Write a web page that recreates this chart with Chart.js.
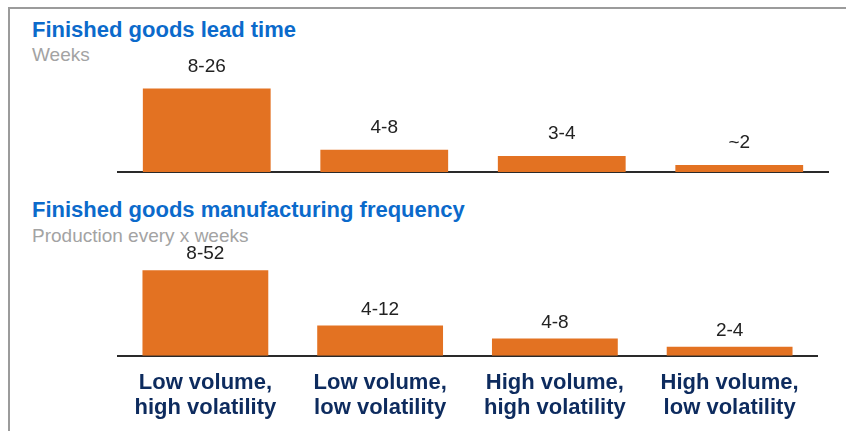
<!DOCTYPE html>
<html>
<head>
<meta charset="utf-8">
<script src="https://cdn.jsdelivr.net/npm/chart.js@4.4.1/dist/chart.umd.min.js"></script>
<style>
  body { margin: 0; background: #fff; font-family: "Liberation Sans", Arial, sans-serif; }
  #wrap { position: relative; width: 846px; height: 431px; overflow: hidden; }
  #frame { position: absolute; left: 8px; top: 7px; right: -4px; bottom: -4px; border-top: 2px solid #9b9b9b; border-left: 2px solid #9b9b9b; }
  .title { position: absolute; left: 32px; font-weight: bold; font-size: 22px; line-height: 22px; color: #0b6acb; white-space: nowrap; }
  .sub { position: absolute; left: 32px; font-size: 19px; line-height: 19px; color: #a3a3a3; white-space: nowrap; }
  canvas { position: absolute; left: 0; }
</style>
</head>
<body>
<div id="wrap">
  <div id="frame"></div>
  <div class="title" style="top:19px">Finished goods lead time</div>
  <div class="sub" style="top:45px">Weeks</div>
  <div class="title" style="top:199px">Finished goods manufacturing frequency</div>
  <div class="sub" style="top:226px">Production every x weeks</div>
  <div style="position:absolute;left:0;top:0;width:846px;height:184px"><canvas id="leadChart"></canvas></div>
  <div style="position:absolute;left:0;top:240px;width:846px;height:199px"><canvas id="freqChart"></canvas></div>
</div>
<script>
// categories (shared by both panels)
const categories = [
  ['Low volume,', 'high volatility'],
  ['Low volume,', 'low volatility'],
  ['High volume,', 'high volatility'],
  ['High volume,', 'low volatility']
];

// lead time panel - bar lengths as drawn, plus printed labels
const leadTimeBars = [83, 22, 16, 7];
const leadTimeLabels = ['8-26', '4-8', '3-4', '~2'];

// manufacturing frequency panel
const freqBars = [85, 30, 17, 9];
const freqLabels = ['8-52', '4-12', '4-8', '2-4'];

const ORANGE = '#e37222';
const NAVY = '#0d2b5e';

// writes the range text above each bar
const valueLabels = {
  id: 'valueLabels',
  afterDatasetsDraw(chart, args, opts) {
    const ctx = chart.ctx;
    const meta = chart.getDatasetMeta(0);
    ctx.save();
    ctx.font = '19px "Liberation Sans", Arial, sans-serif';
    ctx.fillStyle = '#222';
    ctx.textAlign = 'center';
    ctx.textBaseline = 'middle';
    meta.data.forEach((bar, i) => {
      ctx.fillText(opts.labels[i], bar.x, bar.y - opts.offset);
    });
    ctx.restore();
  }
};

function makeChart(id, values, labels, yMax, opts) {
  const ctx = document.getElementById(id);
  return new Chart(ctx.getContext('2d'), {
    type: 'bar',
    data: {
      labels: categories,
      datasets: [{
        data: values,
        backgroundColor: ORANGE,
        borderWidth: 0,
        categoryPercentage: 1,
        barPercentage: 0.72
      }]
    },
    options: {
      responsive: true,
      maintainAspectRatio: false,
      animation: false,
      layout: { padding: opts.padding },
      plugins: {
        legend: { display: false },
        tooltip: { enabled: false },
        valueLabels: { labels: labels, offset: opts.offset }
      },
      scales: {
        y: { display: false, min: 0, max: yMax },
        x: {
          grid: { display: false },
          border: { display: true, color: '#2a2a2a', width: 2 },
          ticks: {
            display: opts.showTicks,
            color: NAVY,
            padding: 7,
            maxRotation: 0,
            autoSkip: false,
            font: { family: '"Liberation Sans", Arial, sans-serif', size: 22, weight: 'bold', lineHeight: 1.12 }
          }
        }
      }
    },
    plugins: [valueLabels]
  });
}

makeChart('leadChart', leadTimeBars, leadTimeLabels, 171, {
  padding: { left: 118, right: 18, top: 0, bottom: 4 },
  offset: 22,
  showTicks: false
});

makeChart('freqChart', freqBars, freqLabels, 115, {
  padding: { left: 118, right: 29, top: 0, bottom: 12 },
  offset: 16,
  showTicks: true
});
</script>
</body>
</html>
